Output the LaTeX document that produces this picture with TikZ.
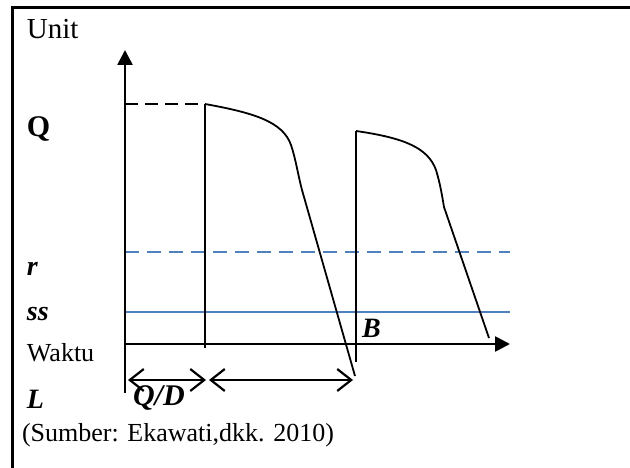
\documentclass[tikz,border=0pt]{standalone}
\usepackage{fontspec}
\setmainfont{Liberation Serif}
\usetikzlibrary{arrows.meta}
\definecolor{lineblue}{RGB}{79,129,189}
\begin{document}
\begin{tikzpicture}[x=1pt,y=-1pt,
  lbl/.style={anchor=base west,inner sep=0pt,outer sep=0pt},
  normtext/.style={lbl,font=\fontsize{26}{30}\selectfont},
  bitext/.style={lbl,font=\fontsize{28}{32}\selectfont\bfseries\itshape},
  axis/.style={line width=2.6pt,-{Triangle[length=15pt,width=15pt]}},
  thin/.style={line width=1.8pt},
  bluesolid/.style={line width=1.8pt,lineblue},
  bluedash/.style={line width=1.8pt,lineblue,dash pattern=on 14pt off 8pt},
  blackdash/.style={line width=1.8pt,dash pattern=on 13pt off 7pt},
  span/.style={line width=2.2pt,{Straight Barb[length=14pt,width=22pt]}-{Straight Barb[length=14pt,width=22pt]}},
  curve/.style={line width=1.8pt,line join=round}]
\useasboundingbox (0,0) rectangle (630,468);
% frame
\coordinate (fbl) at (12,468);
\coordinate (ftl) at (12,7.5);
\coordinate (ftr) at (630,7.5);
\draw[line width=3pt] (fbl) -- (ftl) -- (ftr);
% key points
\coordinate (ybot) at (125,393);
\coordinate (ytop) at (125,50);
\coordinate (xl) at (125,344);
\coordinate (xr) at (510,344);
\coordinate (qa) at (125,104);
\coordinate (qb) at (205,104);
\coordinate (v1b) at (205,348);
\coordinate (v2t) at (356,131);
\coordinate (v2b) at (356,362);
\coordinate (ra) at (125,252);
\coordinate (rb) at (510,252);
\coordinate (sa) at (125,312);
\coordinate (sb) at (510,312);
\coordinate (c1end) at (355,376);
\coordinate (c2end) at (489,338);
\coordinate (a1l) at (128,380);
\coordinate (a1r) at (206,380);
\coordinate (a2l) at (209,380);
\coordinate (a2r) at (353,380);
% level lines
\draw[bluedash] (ra) -- (rb);
\draw[bluesolid] (sa) -- (sb);
\draw[blackdash] (qa) -- (qb);
% axes
\draw[axis] (ybot) -- (ytop);
\draw[axis] (xl) -- (xr);
% verticals
\draw[thin] (qb) -- (v1b);
\draw[thin] (v2t) -- (v2b);
% inventory curves
\draw[curve] (qb) .. controls (255,113) and (283,122) .. (291,145)
  .. controls (296,160) and (298,175) .. (302,190) -- (c1end);
\draw[curve] (v2t) .. controls (405,138) and (428,148) .. (436,170)
  .. controls (440,183) and (442,195) .. (444,207) -- (c2end);
% spans
\draw[span] (a1l) -- (a1r);
\draw[span] (a2l) -- (a2r);
% labels
\node[normtext,font=\fontsize{29}{32}\selectfont] (unit) at (27,39) {Unit};
\node[lbl,font=\fontsize{30}{34}\selectfont\bfseries] (q) at (27,137) {Q};
\node[bitext] (r) at (27,276) {r};
\node[bitext] (ss) at (27,320) {ss};
\node[normtext] (waktu) at (27,361) {Waktu};
\node[bitext] (l) at (27,408) {L};
\node[bitext,font=\fontsize{30}{34}\selectfont\bfseries\itshape] (qd) at (133,405) {Q/D};
\node[bitext] (b) at (362,337) {B};
\node[normtext] (src) at (22,441) {(Sumber: Ekawati,dkk. 2010)};
\end{tikzpicture}
\end{document}
